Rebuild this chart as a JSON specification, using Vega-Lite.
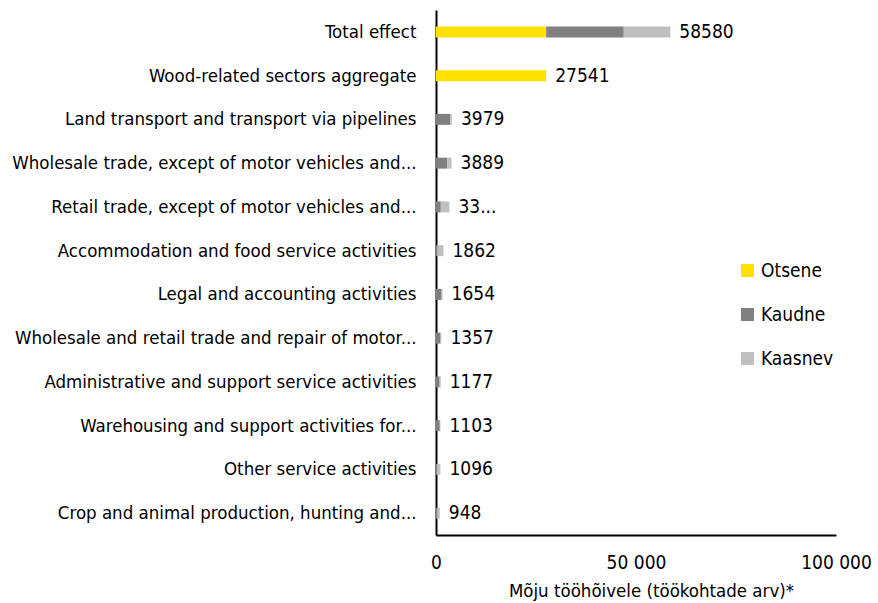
{
  "$schema": "https://vega.github.io/schema/vega-lite/v6.json",
  "width": 400,
  "height": 525,
  "autosize": {"type": "none"},
  "padding": {"left": 436, "top": 10, "right": 42, "bottom": 68},
  "background": "white",
  "config": {
    "font": "DejaVu Sans Condensed",
    "view": {"stroke": null},
    "axis": {"labelColor": "black", "titleColor": "black", "labelFont": "DejaVu Sans Condensed", "titleFont": "DejaVu Sans Condensed"},
    "legend": {"labelFont": "DejaVu Sans Condensed"}
  },
  "datasets": {
    "parts": [
      {"category": "Total effect", "type": "Otsene", "value": 27541},
      {"category": "Total effect", "type": "Kaudne", "value": 19400},
      {"category": "Total effect", "type": "Kaasnev", "value": 11639},
      {"category": "Wood-related sectors aggregate", "type": "Otsene", "value": 27541},
      {"category": "Land transport and transport via pipelines", "type": "Kaudne", "value": 3600},
      {"category": "Land transport and transport via pipelines", "type": "Kaasnev", "value": 379},
      {"category": "Wholesale trade, except of motor vehicles and...", "type": "Kaudne", "value": 2800},
      {"category": "Wholesale trade, except of motor vehicles and...", "type": "Kaasnev", "value": 1089},
      {"category": "Retail trade, except of motor vehicles and...", "type": "Kaudne", "value": 1200},
      {"category": "Retail trade, except of motor vehicles and...", "type": "Kaasnev", "value": 2150},
      {"category": "Accommodation and food service activities", "type": "Kaudne", "value": 300},
      {"category": "Accommodation and food service activities", "type": "Kaasnev", "value": 1562},
      {"category": "Legal and accounting activities", "type": "Kaudne", "value": 1400},
      {"category": "Legal and accounting activities", "type": "Kaasnev", "value": 254},
      {"category": "Wholesale and retail trade and repair of motor...", "type": "Kaudne", "value": 1000},
      {"category": "Wholesale and retail trade and repair of motor...", "type": "Kaasnev", "value": 357},
      {"category": "Administrative and support service activities", "type": "Kaudne", "value": 900},
      {"category": "Administrative and support service activities", "type": "Kaasnev", "value": 277},
      {"category": "Warehousing and support activities for...", "type": "Kaudne", "value": 950},
      {"category": "Warehousing and support activities for...", "type": "Kaasnev", "value": 153},
      {"category": "Other service activities", "type": "Kaudne", "value": 150},
      {"category": "Other service activities", "type": "Kaasnev", "value": 946},
      {"category": "Crop and animal production, hunting and...", "type": "Kaudne", "value": 300},
      {"category": "Crop and animal production, hunting and...", "type": "Kaasnev", "value": 648}
    ],
    "totals": [
      {"category": "Total effect", "total": 58580, "label": "58580"},
      {"category": "Wood-related sectors aggregate", "total": 27541, "label": "27541"},
      {"category": "Land transport and transport via pipelines", "total": 3979, "label": "3979"},
      {"category": "Wholesale trade, except of motor vehicles and...", "total": 3889, "label": "3889"},
      {"category": "Retail trade, except of motor vehicles and...", "total": 3350, "label": "33..."},
      {"category": "Accommodation and food service activities", "total": 1862, "label": "1862"},
      {"category": "Legal and accounting activities", "total": 1654, "label": "1654"},
      {"category": "Wholesale and retail trade and repair of motor...", "total": 1357, "label": "1357"},
      {"category": "Administrative and support service activities", "total": 1177, "label": "1177"},
      {"category": "Warehousing and support activities for...", "total": 1103, "label": "1103"},
      {"category": "Other service activities", "total": 1096, "label": "1096"},
      {"category": "Crop and animal production, hunting and...", "total": 948, "label": "948"}
    ]
  },
  "encoding": {
    "y": {
      "field": "category",
      "type": "nominal",
      "sort": null,
      "scale": {"paddingInner": 0.0, "paddingOuter": 0},
      "axis": {
        "title": null,
        "ticks": false,
        "labelPadding": 20,
        "labelFontSize": 18.5,
        "labelLimit": 440,
        "domainColor": "black",
        "domainWidth": 2
      }
    }
  },
  "layer": [
    {
      "data": {"name": "parts"},
      "mark": {"type": "bar", "size": 11},
      "encoding": {
        "x": {
          "field": "value",
          "type": "quantitative",
          "aggregate": "sum",
          "scale": {"domain": [0, 100000], "nice": false},
          "axis": {
            "title": "Mõju tööhõivele (töökohtade arv)*",
            "values": [0, 50000, 100000],
            "labelExpr": "replace(format(datum.value, ','), ',', ' ')",
            "grid": false,
            "ticks": false,
            "labelFontSize": 19,
            "labelPadding": 18,
            "labelFlush": false,
            "titleFontSize": 18.5,
            "titleFontWeight": "normal",
            "titlePadding": 9,
            "titleX": 215,
            "titleAlign": "center",
            "domainColor": "black",
            "domainWidth": 2
          }
        },
        "color": {
          "field": "type",
          "type": "nominal",
          "sort": ["Otsene", "Kaudne", "Kaasnev"],
          "scale": {"domain": ["Otsene", "Kaudne", "Kaasnev"], "range": ["#FFE100", "#808080", "#BFBFBF"]},
          "legend": {
            "title": null,
            "orient": "none",
            "legendX": 302,
            "legendY": 251,
            "symbolType": "square",
            "symbolSize": 170,
            "symbolStrokeWidth": 0,
            "symbolOpacity": 1,
            "labelFontSize": 19,
            "labelColor": "black",
            "rowPadding": 24
          }
        },
        "order": {"field": "type", "sort": "descending"}
      }
    },
    {
      "data": {"name": "totals"},
      "mark": {"type": "text", "align": "left", "baseline": "middle", "dx": 9, "fontSize": 19, "color": "black"},
      "encoding": {
        "x": {"field": "total", "type": "quantitative"},
        "text": {"field": "label", "type": "nominal"}
      }
    }
  ]
}
